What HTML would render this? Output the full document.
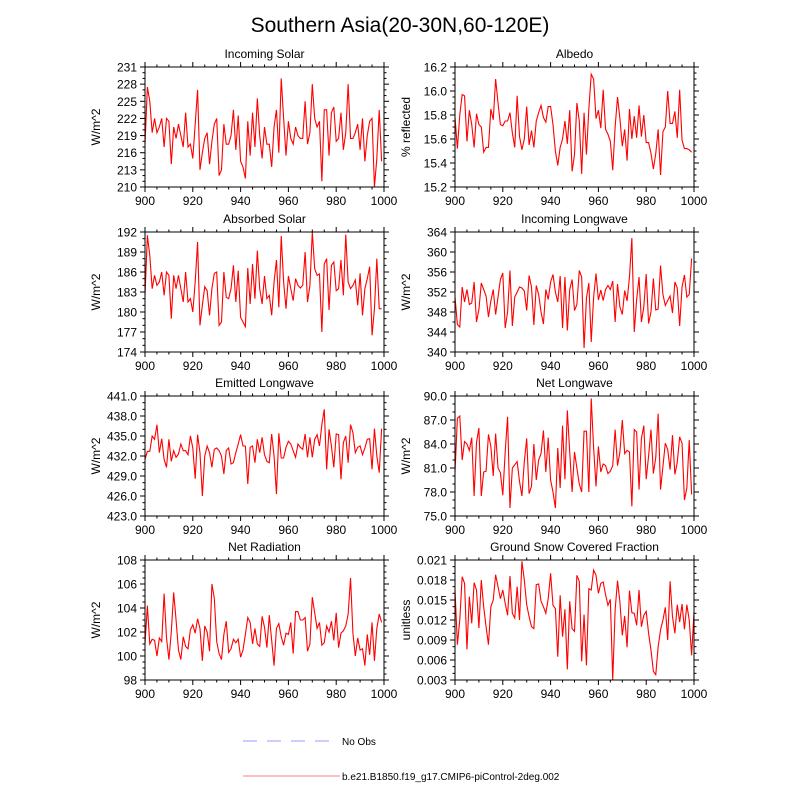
<!DOCTYPE html>
<html><head><meta charset="utf-8">
<style>
html,body{margin:0;padding:0;background:#fff;}
svg{display:block;font-family:"Liberation Sans",sans-serif;}
</style></head>
<body>
<svg id="chart" width="800" height="800" viewBox="0 0 800 800" xmlns="http://www.w3.org/2000/svg">
<text x="400" y="32" text-anchor="middle" font-size="21">Southern Asia(20-30N,60-120E)</text>
<g>
<line x1="243" y1="741" x2="339" y2="741" stroke="#aab0ff" stroke-width="1.3" stroke-dasharray="14,10"/>
<text x="342" y="745" font-size="10">No Obs</text>
<line x1="243" y1="776" x2="340" y2="776" stroke="#ff9999" stroke-width="1.3"/>
<text x="342" y="780" font-size="10">b.e21.B1850.f19_g17.CMIP6-piControl-2deg.002</text>
</g>
</svg>
<script>
const xTicks=[900,920,940,960,980,1000];
const incomingSolar=[217.5,227.5,225,219.5,222,219.5,220.5,222,217,222,221.5,214,220.5,218.5,221,219,217,223,217,217.5,215,221,227,213,216,218.5,219.5,214,218,221,222,212,213,221,217.5,217.5,219,223.5,216.5,222.5,214.5,213.5,211.5,221.5,215.5,223,217,225.5,219,215,220.5,217.5,217.5,213.5,220.5,223.5,216,229,222,215.5,221.5,218.5,217.5,220.5,219,218.5,218.5,225,217.5,219.5,228,222,220.5,221.5,211,223.5,223.5,215.5,223,224,218,218.5,223,216.5,219.5,228,218.5,218.5,219.5,221,216.5,222,214.5,219,221.5,222,210,215,223.5,214.5];
const albedo=[15.78,15.52,15.8,15.97,15.96,15.58,15.84,15.72,15.53,15.81,15.72,15.7,15.49,15.53,15.53,15.85,15.76,16.1,15.9,15.72,15.71,15.75,15.75,15.82,15.65,15.53,15.96,15.62,15.51,15.6,15.87,15.55,15.67,15.53,15.75,15.82,15.88,15.78,15.74,15.87,15.87,15.72,15.5,15.38,15.53,15.6,15.75,15.56,15.84,15.33,15.47,15.9,15.75,15.31,15.82,15.47,15.85,16.14,16.1,15.77,15.84,15.69,16.01,15.68,15.64,15.58,15.34,15.7,15.95,15.77,15.54,15.68,15.42,15.85,15.6,15.79,15.61,15.88,15.62,15.8,15.57,15.57,15.48,15.35,15.48,15.68,15.3,15.66,15.7,16.0,15.73,15.73,15.83,15.61,16.01,15.59,15.52,15.52,15.51,15.49];
const absorbedSolar=[182.5,191.5,188.5,183.5,185.5,184,184.5,186,182.5,186,185.5,179,185.5,183.5,185.5,183.5,181.5,186,181.5,182,180,184.5,190.5,178,181,183.8,183.2,179.5,183.5,185.8,186,178,178.5,186,182.2,182,183.5,187,181.5,186.2,179.2,178.5,177.8,186.6,181.2,187.2,182,189.2,183.5,181.2,185.4,182,182.5,179.5,184.5,187.8,180.7,191.4,184.5,180.5,185.4,183.5,181.7,185,184,183.6,184,189,181.5,184,192,186.5,185.5,185.7,177,187.2,188,180.3,187,187.5,183.2,183.5,187.8,182.5,191.6,184.5,183.5,184,184.8,181,185.8,179.5,183.5,185,186.8,176.5,180.5,188,180.5,180.5];
const incomingLW=[351,345.5,345,353,350,352.5,349.5,349.8,354,346,348.5,353.8,352.5,351.2,347,350.2,352.5,347.5,351,354.5,355.8,344.8,348,356.3,345.2,351,352,353,352.8,352.2,348.3,355.3,353,345.4,353.3,351.5,348,345.6,352.5,350.5,354,355.5,352,350,355.2,344.8,355,344.3,352.5,354.5,348.3,349.5,356.3,355,340.8,350.8,353.8,342,351,355.7,350.4,352.4,350.3,352.5,353.3,352.5,354.2,346,353.6,349,347.5,352.3,350.2,355,362.8,344,350.5,355,346,349,355.6,345.7,348,354.7,348.4,348.6,357.3,351.5,349.3,350.3,351.2,347.8,354,352.8,345.2,353,355.4,351,351.5,358.7];
const emittedLW=[431.5,432.7,432.7,435,434.5,436.7,432.5,434.6,431.5,430.3,434.5,431.2,432.8,431.8,432.3,433.8,432.8,432.8,432.2,435,433.2,428.6,435.2,432.5,426,432,433.5,432.5,430.3,433,433.2,432.8,432,429.3,432.8,433.2,430.8,431,432.5,433.8,435.2,433.5,433.5,427.8,433.3,433.5,431,434.5,432.5,434.8,432.2,431.2,431,435.3,432,426.3,435.4,431.7,431.7,433.3,434.2,433.8,432.8,431.8,433.8,433.3,433,435.3,431.8,434.8,431.8,434.5,435.2,433.5,436.7,439,430,436,433.5,430.3,435.3,435.2,428.5,434,435,431,436.7,435.5,432.5,433.3,433.5,432.2,433.2,434.5,434.6,430,436.1,432,429.5,436.1];
const netLW=[80.5,87.2,87.5,82,84.3,84,83.2,84.8,77.5,84.2,86,77.5,80.5,80.6,85.2,83.7,80,85.3,81,80.4,77.6,83,87.4,76,81,81.4,81.8,79.3,77.5,81.8,84.7,77.8,78.7,84,79.5,82,82.8,85.7,80.5,84.8,79.5,78,76,83.5,78.5,86.3,79.6,88.2,83,78,83,81,79,78,85.6,85.6,78,89.7,83.5,78.7,83.7,80.5,81.5,81.3,80.3,80.6,81.3,85.8,81.3,83,87,82.8,83.2,83,76.2,85.8,85.5,78.3,84.7,86.3,79.6,82.5,85.8,80.3,82.3,87.8,78.3,81.2,84.1,83.3,80.8,85.1,80.2,81.7,84.9,84.1,77,78.5,84.5,77.7];
const netRad=[101,104.2,101,101.4,101.3,100,101.5,101.2,105.2,101.5,99.7,102,105.3,103,100.5,99.7,101.6,100.8,100.6,102.2,102.6,101.9,103.1,102.3,99.6,102.5,102,100.4,106,104.8,101.2,100.2,99.7,101.8,102.9,100.3,100.6,101.4,101.1,101.4,99.9,100.5,101.8,103.2,102.8,101,102.3,101,100.8,103.3,102.4,100.7,103.4,101.3,99.2,102.3,102.7,101.6,100.9,101.9,101.8,102.8,100.2,103.7,103.7,103,103,103.2,100.4,101,104.9,103.6,102.3,102.8,100.9,101.1,102.5,102,102.9,101.3,103.6,100.7,101.9,102.1,102.5,103.5,106.5,101.9,100,101.5,100.5,100.6,99.2,101.8,100.1,102.8,99.6,102.3,103.5,102.8];
const snowFrac=[0.0165,0.0083,0.012,0.0185,0.0175,0.0076,0.0155,0.0115,0.0176,0.0165,0.0108,0.018,0.014,0.011,0.0083,0.014,0.015,0.0188,0.017,0.0152,0.0165,0.0145,0.0127,0.0186,0.013,0.0123,0.017,0.012,0.0208,0.018,0.0143,0.0125,0.011,0.0107,0.0173,0.0174,0.0148,0.014,0.013,0.0152,0.019,0.0142,0.0137,0.0065,0.0157,0.0095,0.0136,0.0046,0.0148,0.0107,0.0103,0.0187,0.0178,0.0058,0.0128,0.0052,0.0167,0.0165,0.0195,0.0187,0.016,0.0175,0.0177,0.0158,0.0142,0.0151,0.003,0.0135,0.0179,0.0147,0.0097,0.0126,0.0079,0.0164,0.0131,0.013,0.0112,0.0165,0.011,0.0127,0.0133,0.01,0.0075,0.0043,0.0038,0.008,0.0105,0.012,0.0139,0.009,0.0178,0.0125,0.01,0.0143,0.0117,0.0144,0.0106,0.0143,0.012,0.0067,0.0132];
const yTicksSolar=[210,213,216,219,222,225,228,231];
const yTicksAlbedo=[15.2,15.4,15.6,15.8,16.0,16.2];
const yTicksAbs=[174,177,180,183,186,189,192];
const yTicksILW=[340,344,348,352,356,360,364];
const yTicksELW=[423,426,429,432,435,438,441];
const yTicksNLW=[75,78,81,84,87,90];
const yTicksNR=[98,100,102,104,106,108];
const yTicksSnow=[0.003,0.006,0.009,0.012,0.015,0.018,0.021];

const NS="http://www.w3.org/2000/svg";
const svg=document.getElementById('chart');
function mk(tag,attrs,parent){const e=document.createElementNS(NS,tag);for(const k in attrs)e.setAttribute(k,attrs[k]);(parent||svg).appendChild(e);return e;}

const panels=[
 {name:'incoming-solar',title:'Incoming Solar',yl:'W/m^2',data:incomingSolar,ticks:yTicksSolar,dec:0,minor:3,x0:145,y0:67},
 {name:'albedo',title:'Albedo',yl:'% reflected',data:albedo,ticks:yTicksAlbedo,dec:1,minor:4,x0:455,y0:67},
 {name:'absorbed-solar',title:'Absorbed Solar',yl:'W/m^2',data:absorbedSolar,ticks:yTicksAbs,dec:0,minor:3,x0:145,y0:232},
 {name:'incoming-longwave',title:'Incoming Longwave',yl:'W/m^2',data:incomingLW,ticks:yTicksILW,dec:0,minor:2,x0:455,y0:232},
 {name:'emitted-longwave',title:'Emitted Longwave',yl:'W/m^2',data:emittedLW,ticks:yTicksELW,dec:1,minor:3,x0:145,y0:396},
 {name:'net-longwave',title:'Net Longwave',yl:'W/m^2',data:netLW,ticks:yTicksNLW,dec:1,minor:3,x0:455,y0:396},
 {name:'net-radiation',title:'Net Radiation',yl:'W/m^2',data:netRad,ticks:yTicksNR,dec:0,minor:4,x0:145,y0:560},
 {name:'snow-fraction',title:'Ground Snow Covered Fraction',yl:'unitless',data:snowFrac,ticks:yTicksSnow,dec:3,minor:3,x0:455,y0:560}
];
const W=239,H=120;
panels.forEach(p=>{
 const g=mk('g',{});
 
 
 const ymin=p.ticks[0],ymax=p.ticks[p.ticks.length-1];
 const sx=v=>p.x0+(v-900)/100*W;
 const sy=v=>p.y0+H-(v-ymin)/(ymax-ymin)*H;
 xTicks.forEach((t,i)=>{
   const x=sx(t);
   mk('line',{x1:x,y1:p.y0+H,x2:x,y2:p.y0+H+5,stroke:'#000','stroke-width':1},g);
   mk('line',{x1:x,y1:p.y0,x2:x,y2:p.y0-5,stroke:'#000','stroke-width':1},g);
   const tl=mk('text',{x:x,y:p.y0+H+18,'text-anchor':'middle','font-size':12},g);
   tl.textContent=t;
   
   
   if(i<xTicks.length-1){for(let m=1;m<4;m++){const xm=sx(t+m*5);
     mk('line',{x1:xm,y1:p.y0+H,x2:xm,y2:p.y0+H+2.5,stroke:'#000','stroke-width':1},g);
     mk('line',{x1:xm,y1:p.y0,x2:xm,y2:p.y0-2.5,stroke:'#000','stroke-width':1},g);}}
 });
 p.ticks.forEach((t,i)=>{
   const y=sy(t);
   mk('line',{x1:p.x0,y1:y,x2:p.x0-5,y2:y,stroke:'#000','stroke-width':1},g);
   mk('line',{x1:p.x0+W,y1:y,x2:p.x0+W+5,y2:y,stroke:'#000','stroke-width':1},g);
   const tl=mk('text',{x:p.x0-8,y:y+4.5,'text-anchor':'end','font-size':12},g);
   tl.textContent=t.toFixed(p.dec);
   
   
   if(i<p.ticks.length-1){const st=(p.ticks[i+1]-t)/p.minor;for(let m=1;m<p.minor;m++){const ym=sy(t+m*st);
     mk('line',{x1:p.x0,y1:ym,x2:p.x0-2.5,y2:ym,stroke:'#000','stroke-width':1},g);
     mk('line',{x1:p.x0+W,y1:ym,x2:p.x0+W+2.5,y2:ym,stroke:'#000','stroke-width':1},g);}}
 });
 const pts=p.data.map((v,i)=>sx(900+i).toFixed(2)+','+sy(v).toFixed(2)).join(' ');
 const line=mk('polyline',{points:pts,fill:'none',stroke:'#ff0000','stroke-width':1.1},g);
 
 
 const box=mk('rect',{x:p.x0,y:p.y0,width:W,height:H,fill:'none',stroke:'#000','stroke-width':1},g);
 
 
 const tt=mk('text',{x:p.x0+W/2,y:p.y0-9,'text-anchor':'middle','font-size':12},g);
 tt.textContent=p.title;
 
 
 const cy=p.y0+H/2, cx=p.x0-45;
 const yt=mk('text',{x:cx,y:cy,'text-anchor':'middle','font-size':12,transform:'rotate(-90 '+cx+' '+cy+')'},g);
 yt.textContent=p.yl;
 
 
});
</script>
</body></html>
